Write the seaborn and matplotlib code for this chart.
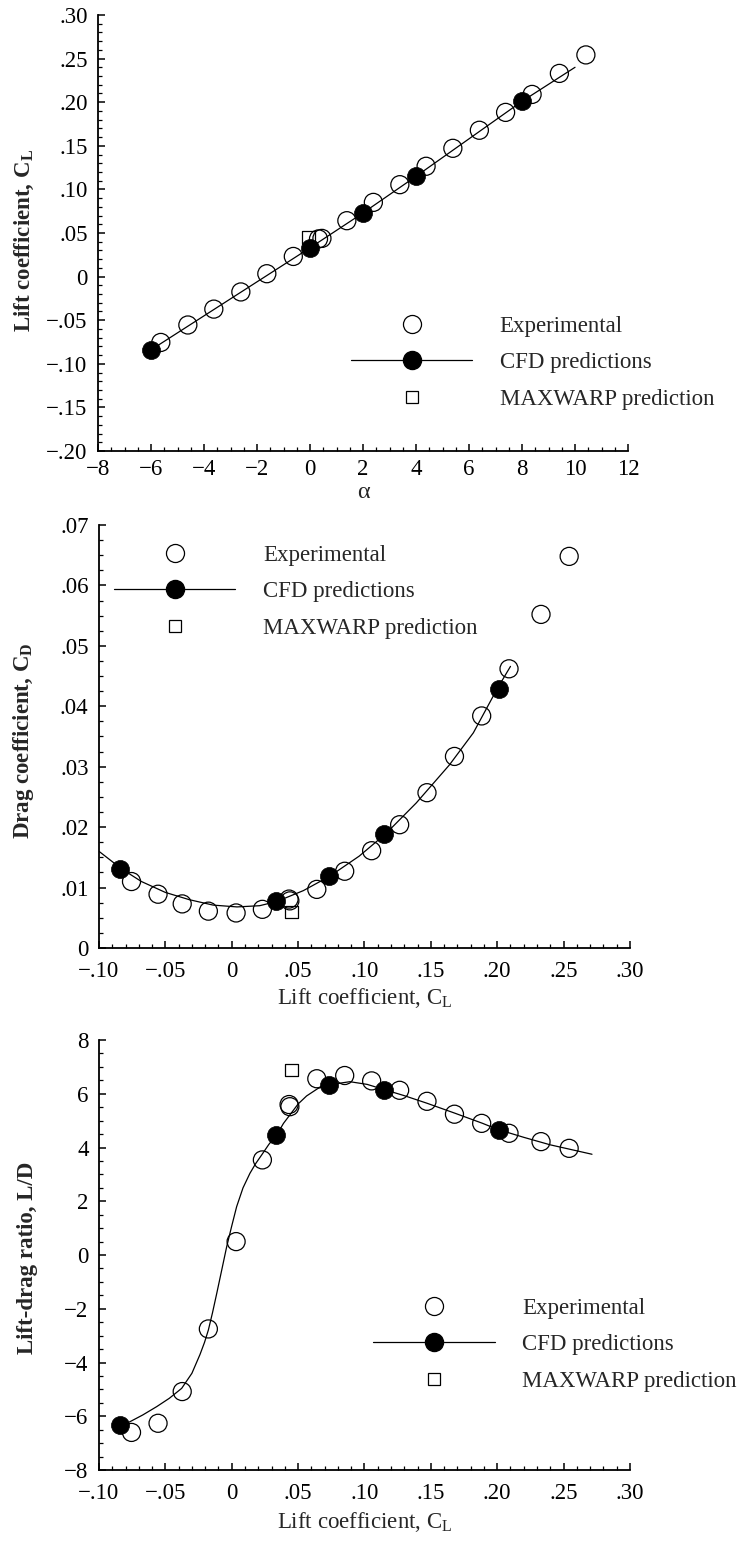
import matplotlib
matplotlib.use("Agg")
import matplotlib.pyplot as plt
from matplotlib.lines import Line2D
from matplotlib.ticker import MultipleLocator, FuncFormatter
import seaborn as sns

# Datos
# Experimental (alfa, CL, CD, L/D)
exp_alpha = [-5.63, -4.61, -3.63, -2.61, -1.63, -0.63, 0.32, 0.45, 1.39, 2.39,
             3.39, 4.38, 5.39, 6.39, 7.38, 8.38, 9.41, 10.41]
exp_cl = [-.0755, -.0555, -.0373, -.0176, .0033, .0231, .0432, .0438, .0641, .0851,
          .1054, .1265, .1471, .1678, .1883, .2089, .2330, .2542]
exp_cd = [.0110, .0089, .0073, .0061, .0058, .0064, .0081, .0078, .0097, .0127,
          .0161, .0204, .0257, .0317, .0384, .0462, .0552, .0648]
exp_ld = [-6.60, -6.26, -5.08, -2.75, 0.50, 3.54, 5.60, 5.52, 6.56, 6.68,
          6.48, 6.13, 5.72, 5.24, 4.90, 4.53, 4.22, 3.97]

# CFD (puntos)
cfd_alpha = [-6, 0, 2, 4, 8]
cfd_cl = [-.084, .033, .073, .115, .201]
cfd_cd = [.0131, .0077, .0119, .0189, .0429]
cfd_ld = [-6.33, 4.48, 6.34, 6.14, 4.65]

# CFD (curvas)
line_alpha = [-6, 0, 2, 4, 8, 10]
line_cl = [-.084, .033, .073, .115, .201, .240]

drag_curve_cl = [-.100, -.083, -.068, -.050, -.032, -.014, .004, .021, .034, .054,
                 .074, .096, .116, .139, .164, .182, .200, .210]
drag_curve_cd = [.0160, .0131, .0110, .0092, .0080, .0071, .0068, .0070, .0077, .0095,
                 .0119, .0152, .0189, .0240, .0303, .0356, .0429, .0466]

ld_curve_cl = [-.083, -.0766, -.067, -.0565, -.047, -.0377, -.030, -.0239, -.0205,
               -.0176, -.0145, -.0113, -.0075, -.0038, .000, .0037, .0085, .0137,
               .018, .0225, .028, .034, .039, .0439, .050, .0564, .065, .074, .089,
               .102, .116, .130, .147, .168, .189, .200, .220, .240, .2714]
ld_curve_ld = [-6.33, -6.20, -5.95, -5.64, -5.33, -4.96, -4.40, -3.70, -3.25,
               -2.79, -2.15, -1.43, -0.55, 0.31, 1.08, 1.80, 2.50, 3.04,
               3.40, 3.72, 4.12, 4.48, 4.90, 5.22, 5.62, 5.92, 6.20, 6.34, 6.45,
               6.35, 6.14, 5.93, 5.65, 5.28, 4.90, 4.68, 4.38, 4.10, 3.75]

# MAXWARP
maxwarp_alpha = [-0.05]
maxwarp_cl = [0.045]
maxwarp_cd = [0.0060]
maxwarp_ld = [6.88]

legend_labels = ["Experimental", "CFD predictions", "MAXWARP prediction"]

# Estilo
sns.set_style("ticks")
plt.rcParams["font.family"] = ["Liberation Serif", "DejaVu Serif"]
plt.rcParams["mathtext.fontset"] = "custom"
plt.rcParams["mathtext.rm"] = "Liberation Serif"
plt.rcParams["axes.unicode_minus"] = True

FS_TICK = 16.5
FS_TEXT = 16.5
MS = 13


def fmt_dec(v, pos):
    if abs(v) < 1e-9:
        return "0"
    s = f"{abs(v):.2f}"[1:]
    return ("\u2212" if v < 0 else "") + s


def fmt_int(v, pos):
    n = int(round(v))
    return ("\u2212" if n < 0 else "") + str(abs(n))


def style_axis(ax, xmaj, xmin, ymaj, ymin, xfmt, yfmt, xpad=9):
    sns.despine(ax=ax)
    ax.xaxis.set_major_locator(MultipleLocator(xmaj))
    ax.xaxis.set_minor_locator(MultipleLocator(xmin))
    ax.yaxis.set_major_locator(MultipleLocator(ymaj))
    ax.yaxis.set_minor_locator(MultipleLocator(ymin))
    ax.xaxis.set_major_formatter(FuncFormatter(xfmt))
    ax.yaxis.set_major_formatter(FuncFormatter(yfmt))
    ax.tick_params(which="both", direction="in", colors="black", labelsize=FS_TICK)
    ax.tick_params(which="major", length=5, width=1.1)
    ax.tick_params(which="minor", length=2.8, width=0.9)
    ax.tick_params(axis="x", which="major", pad=xpad)
    ax.tick_params(axis="y", which="major", pad=7.5)
    for sp in ["left", "bottom"]:
        ax.spines[sp].set_linewidth(1.3)
        ax.spines[sp].set_color("black")


def draw(ax, ex_x, ex_y, lx, ly, cx, cy, mx, my):
    sns.scatterplot(x=ex_x, y=ex_y, ax=ax, marker="o", s=MS ** 2,
                    facecolor="none", edgecolor="black", linewidth=0.9, zorder=3)
    sns.lineplot(x=lx, y=ly, ax=ax, sort=False, estimator=None,
                 color="black", linewidth=0.9, zorder=2)
    sns.scatterplot(x=mx, y=my, ax=ax, marker="s", s=9 ** 2,
                    facecolor="none", edgecolor="black", linewidth=0.9, zorder=3)
    sns.scatterplot(x=cx, y=cy, ax=ax, marker="o", s=MS ** 2,
                    color="black", edgecolor="black", linewidth=0.5, zorder=4)


def add_legend(ax, anchor):
    h1 = Line2D([], [], ls="none", marker="o", ms=MS, mfc="none", mec="black", mew=0.9)
    h2 = Line2D([], [], ls="-", color="black", lw=0.9, marker="o", ms=MS,
                mfc="black", mec="black")
    h3 = Line2D([], [], ls="none", marker="s", ms=9, mfc="none", mec="black", mew=0.9)
    ax.legend([h1, h2, h3], legend_labels, loc="center left", bbox_to_anchor=anchor,
              frameon=False, fontsize=FS_TEXT, handlelength=5.3, handletextpad=1.2,
              labelspacing=0.68, borderpad=0, borderaxespad=0)


fig = plt.figure(figsize=(7.42, 15.44), dpi=100)

# Panel superior: CL vs alfa
ax1 = fig.add_axes([0.1321, 0.7079, 0.7143, 0.2824])
draw(ax1, exp_alpha, exp_cl, line_alpha, line_cl, cfd_alpha, cfd_cl, maxwarp_alpha, maxwarp_cl)
ax1.set_xlim(-8, 12)
ax1.set_ylim(-0.20, 0.30)
style_axis(ax1, 2, 0.5, 0.05, 0.01, fmt_int, fmt_dec, xpad=6)
ax1.set_xlabel("α", fontsize=FS_TEXT + 1)
ax1.set_ylabel(r"Lift coefficient, C$_\mathregular{L}$", fontsize=FS_TEXT, fontweight="bold")
ax1.xaxis.set_label_coords(0.5, -0.072)
ax1.yaxis.set_label_coords(-0.117, 0.484)
add_legend(ax1, (0.477, 0.2026))

# Panel medio: CD vs CL
ax2 = fig.add_axes([0.1334, 0.386, 0.7156, 0.274])
draw(ax2, exp_cl, exp_cd, drag_curve_cl, drag_curve_cd, cfd_cl, cfd_cd, maxwarp_cl, maxwarp_cd)
ax2.set_xlim(-0.10, 0.30)
ax2.set_ylim(0, 0.07)
style_axis(ax2, 0.05, 0.01, 0.01, 0.0025, fmt_dec, fmt_dec)
ax2.set_xlabel(r"Lift coefficient, C$_\mathregular{L}$", fontsize=FS_TEXT)
ax2.set_ylabel(r"Drag coefficient, C$_\mathregular{D}$", fontsize=FS_TEXT, fontweight="bold")
ax2.xaxis.set_label_coords(0.5, -0.09)
ax2.yaxis.set_label_coords(-0.119, 0.489)
add_legend(ax2, (0.028, 0.842))

# Panel inferior: L/D vs CL
ax3 = fig.add_axes([0.1334, 0.0479, 0.7156, 0.2785])
draw(ax3, exp_cl, exp_ld, ld_curve_cl, ld_curve_ld, cfd_cl, cfd_ld, maxwarp_cl, maxwarp_ld)
ax3.set_xlim(-0.10, 0.30)
ax3.set_ylim(-8, 8)
style_axis(ax3, 0.05, 0.01, 2, 0.5, fmt_dec, fmt_int)
ax3.set_xlabel(r"Lift coefficient, C$_\mathregular{L}$", fontsize=FS_TEXT)
ax3.set_ylabel("Lift-drag ratio, L/D", fontsize=FS_TEXT, fontweight="bold")
ax3.xaxis.set_label_coords(0.5, -0.093)
ax3.yaxis.set_label_coords(-0.115, 0.494)
add_legend(ax3, (0.517, 0.291))

fig.savefig("out.png", dpi=100, facecolor="white")
